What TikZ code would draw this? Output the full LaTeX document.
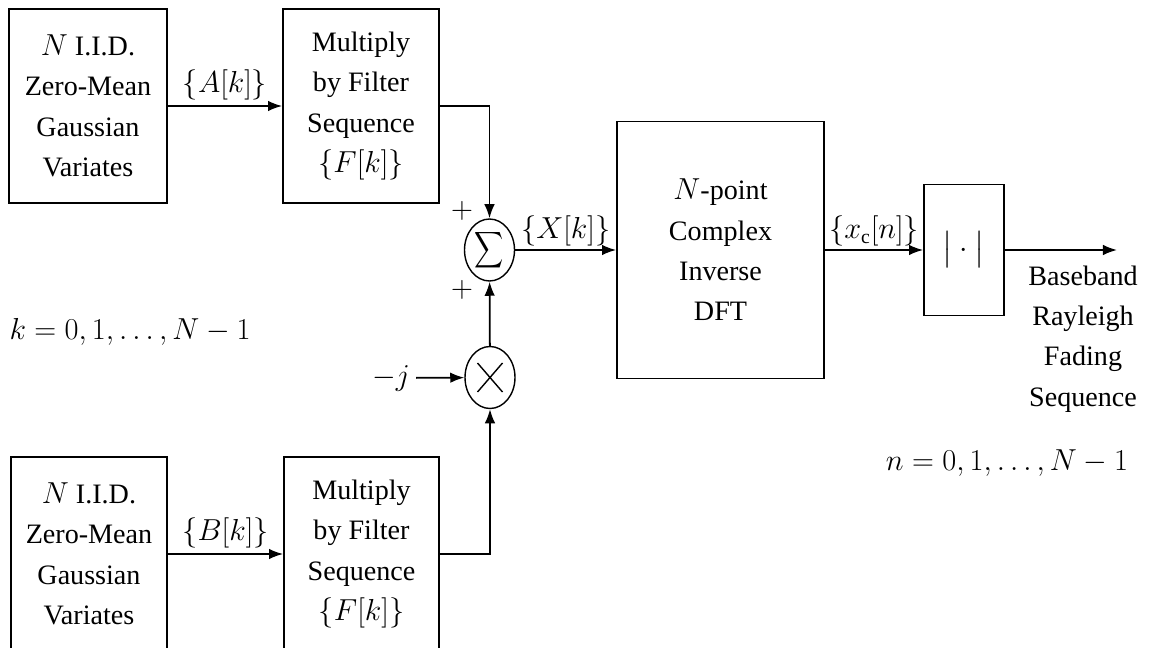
\documentclass[tikz,border=0pt]{standalone}
\usepackage{amsmath}
\usepackage{fontspec}
\setmainfont{Liberation Serif}
\usetikzlibrary{arrows.meta,shapes.geometric}
\begin{document}
\begin{tikzpicture}[x=0.02cm,y=-0.02cm,
  font=\fontsize{16}{23}\selectfont,
  blk/.style={draw,line width=1pt,align=center,inner sep=0pt},
  junc/.style={draw,ellipse,line width=0.8pt,minimum width=1cm,minimum height=1.24cm,inner sep=0pt},
  arr/.style={line width=1pt,-{Latex[length=8pt,width=6pt]}},
  lbl/.style={inner sep=3pt},
  lblc/.style={inner sep=1.5pt},
  plus/.style={font=\fontsize{16}{18}\selectfont,inner sep=0pt}]
\useasboundingbox (0,0) rectangle (1149,648);
\clip (0,0) rectangle (1149,648);
% blocks
\node[blk,minimum width=3.16cm,minimum height=3.88cm] (a1) at (88,106) {$N$ I.I.D.\\Zero-Mean\\Gaussian\\Variates};
\node[blk,minimum width=3.12cm,minimum height=3.88cm] (f1) at (361,106) {Multiply\\by Filter\\Sequence\\$\{F[k]\}$};
\node[blk,minimum width=3.12cm,minimum height=3.88cm] (b1) at (89,554) {$N$ I.I.D.\\Zero-Mean\\Gaussian\\Variates};
\node[blk,minimum width=3.1cm,minimum height=3.88cm] (f2) at (361.5,554) {Multiply\\by Filter\\Sequence\\$\{F[k]\}$};
\node[junc,label={[font=\fontsize{14}{16}\selectfont,xscale=0.8,inner sep=0pt]center:$\displaystyle\sum$}] (sum) at (489.5,250) {};
\node[junc,path picture={
  \draw[line width=0.8pt]
   ([shift={(-0.25cm,-0.29cm)}]path picture bounding box.center) -- ([shift={(0.25cm,0.29cm)}]path picture bounding box.center)
   ([shift={(-0.25cm,0.29cm)}]path picture bounding box.center) -- ([shift={(0.25cm,-0.29cm)}]path picture bounding box.center);}] (mul) at (490,377.5) {};
\node[blk,minimum width=4.14cm,minimum height=5.14cm] (dft) at (720.5,250) {$N$-point\\Complex\\Inverse\\DFT};
\node[blk,minimum width=1.6cm,minimum height=2.62cm] (abs) at (964,250) {$\big|\cdot\big|$};
\coordinate (out) at (1117,250);
% texts
\node (mj) at (391,378) {$-j$};
\node[align=center] (outlbl) at (1083,339) {Baseband\\Rayleigh\\Fading\\Sequence};
\node (kr) at (130,332) {$k=0,1,\ldots,N-1$};
\node (nr) at (1007,463) {$n=0,1,\ldots,N-1$};
\node[plus] (p1) at (462,211) {$+$};
\node[plus] (p2) at (462,290) {$+$};
% connectors
\draw[arr] (a1) -- node[above,lbl]{$\{A[k]\}$} (f1);
\draw[arr] (b1) -- node[above,lbl]{$\{B[k]\}$} (f2);
\draw[arr] (f1.east) -| (sum.north);
\draw[arr] (f2.east) -| (mul.south);
\draw[arr] (mul) -- (sum);
\draw[arr] (mj) -- (mul);
\draw[arr] (sum) -- node[above,lblc]{$\{X[k]\}$} (dft);
\draw[arr] (dft) -- node[above,lblc]{$\{x_{\mathrm{c}}[n]\}$} (abs);
\draw[arr] (abs) -- (out);
\end{tikzpicture}
\end{document}
